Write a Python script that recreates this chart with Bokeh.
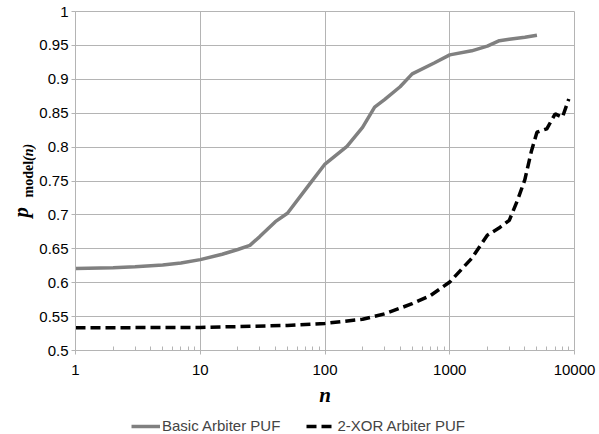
import math
from bokeh.plotting import figure
from bokeh.layouts import column, row
from bokeh.models import (Range1d, FixedTicker, NumeralTickFormatter, CustomJSTickFormatter,
                          Legend, LegendItem)
from bokeh.core.properties import value
from bokeh.embed import file_html
from bokeh.resources import INLINE

# ---- data ----
basic_n = [1, 2, 3, 5, 7, 10, 15, 20, 25, 30, 40, 50, 75, 100, 150, 200, 250, 300, 400,
           500, 750, 1000, 1500, 2000, 2500, 3000, 4000, 5000]
basic_p = [0.621, 0.622, 0.6235, 0.626, 0.629, 0.634, 0.642, 0.649, 0.655, 0.668, 0.690,
           0.7025, 0.745, 0.775, 0.801, 0.829, 0.859, 0.870, 0.889, 0.908, 0.924, 0.936,
           0.942, 0.949, 0.957, 0.959, 0.962, 0.965]

xor_n = [1, 10, 50, 100, 200, 300, 500, 700, 1000, 1500, 2000, 2500, 3000, 3500, 4000,
         4500, 5000, 6000, 7000, 8000, 9000]
xor_p = [0.5335, 0.534, 0.537, 0.540, 0.546, 0.554, 0.569, 0.581, 0.601, 0.636, 0.670,
         0.681, 0.692, 0.722, 0.752, 0.793, 0.822, 0.827, 0.849, 0.844, 0.871]

x_major = [1, 10, 100, 1000, 10000]
y_major = [0.5, 0.55, 0.6, 0.65, 0.7, 0.75, 0.8, 0.85, 0.9, 0.95, 1.0]

series_names = ["Basic Arbiter PUF", "2-XOR Arbiter PUF"]
y_label_parts = ["p", "model", "(n)"]
x_label = "n"

GRID = "#b4b4b4"
SANS = "Liberation Sans"
SERIF = "Liberation Serif"
BASIC_COLOR = "#808080"
XOR_COLOR = "#000000"
XOR_DASH = "10 5"
LW = 3.5

TOP, BOTTOM = 11, 60
MAIN_H = 410
LAB_W = 36
yr = Range1d(0.5, 1.0)

# ---- main plot ----
p = figure(width=599 - LAB_W, height=MAIN_H, x_axis_type="log", output_backend="svg",
           toolbar_location=None, x_range=Range1d(1, 10000), y_range=yr,
           min_border_left=74 - LAB_W, min_border_right=25, min_border_top=TOP,
           min_border_bottom=BOTTOM)
p.background_fill_color = "white"
p.border_fill_color = "white"
p.outline_line_color = GRID

minor = [m * 10 ** k for k in range(4) for m in range(2, 10)]
p.xaxis.ticker = FixedTicker(ticks=x_major, minor_ticks=minor)
p.xaxis.formatter = NumeralTickFormatter(format="0")
p.yaxis.ticker = FixedTicker(ticks=y_major)
p.yaxis.formatter = CustomJSTickFormatter(code="return String(parseFloat(tick.toFixed(2)));")

for ax in (p.xaxis[0], p.yaxis[0]):
    ax.axis_line_color = GRID
    ax.major_tick_line_color = GRID
    ax.minor_tick_line_color = GRID
    ax.major_tick_in = 0
    ax.major_tick_out = 4
    ax.major_label_text_font = SANS
    ax.major_label_text_font_size = "15px"
    ax.major_label_text_color = "#000000"

p.xaxis.minor_tick_in = 4
p.xaxis.minor_tick_out = 0
p.xaxis.major_label_standoff = 10
p.yaxis.minor_tick_line_color = None
p.yaxis.major_label_standoff = 3

p.xaxis.axis_label = x_label
p.xaxis.axis_label_text_font = SERIF
p.xaxis.axis_label_text_font_style = "bold italic"
p.xaxis.axis_label_text_font_size = "21px"
p.xaxis.axis_label_text_color = "#000000"
p.xaxis.axis_label_standoff = 5

p.xgrid.grid_line_color = GRID
p.ygrid.grid_line_color = GRID
p.xgrid.minor_grid_line_color = None

p.line(basic_n, basic_p, line_color=BASIC_COLOR, line_width=LW)
p.line(xor_n, xor_p, line_color=XOR_COLOR, line_width=LW, line_dash=XOR_DASH)

# ---- y-axis title panel (shares the y range) ----
lab = figure(width=LAB_W, height=MAIN_H, output_backend="svg", toolbar_location=None,
             x_range=Range1d(0, LAB_W), y_range=yr, x_axis_location=None,
             y_axis_location=None, min_border_left=0, min_border_right=0,
             min_border_top=TOP, min_border_bottom=BOTTOM)
lab.outline_line_color = None
lab.xgrid.visible = False
lab.ygrid.visible = False
lab.text(x=[20.5], y=[0.696], text=[y_label_parts[0]], angle=math.pi / 2,
         text_font=value(SERIF), text_font_style="bold italic", text_font_size="21px",
         text_align="left", text_baseline="alphabetic", text_color="#000000")
lab.text(x=[27.5], y=[0.7257], text=[y_label_parts[1]], angle=math.pi / 2,
         text_font=value(SERIF), text_font_style="bold", text_font_size="14px",
         text_align="left", text_baseline="alphabetic", text_color="#000000")
lab.text(x=[27.5], y=[0.7795], text=[y_label_parts[2]], angle=math.pi / 2,
         text_font=value(SERIF), text_font_style="bold italic", text_font_size="14px",
         text_align="left", text_baseline="alphabetic", text_color="#000000")

# ---- legend panel ----
LEG_H = 434 - MAIN_H
nan = float("nan")
leg = figure(width=599, height=LEG_H, output_backend="svg", toolbar_location=None,
             x_range=Range1d(0, 599), y_range=Range1d(0, LEG_H),
             x_axis_location=None, y_axis_location=None, min_border_left=0,
             min_border_right=0, min_border_top=0, min_border_bottom=0)
leg.outline_line_color = None
leg.xgrid.visible = False
leg.ygrid.visible = False
g1 = leg.line([nan], [nan], line_color=BASIC_COLOR, line_width=LW)
g2 = leg.line([nan], [nan], line_color=XOR_COLOR, line_width=LW, line_dash=XOR_DASH)
legend = Legend(items=[LegendItem(label=series_names[0], renderers=[g1]),
                       LegendItem(label=series_names[1], renderers=[g2])],
                orientation="horizontal", location=(131, 0),
                label_text_font=SANS, label_text_font_size="15px",
                glyph_width=29, glyph_height=16, label_standoff=2, spacing=26,
                padding=0, margin=0, border_line_alpha=0, background_fill_alpha=0)
leg.add_layout(legend, "center")

layout = column(row(lab, p, spacing=0), leg, spacing=0)
open("out.html", "w").write(file_html(layout, INLINE))
